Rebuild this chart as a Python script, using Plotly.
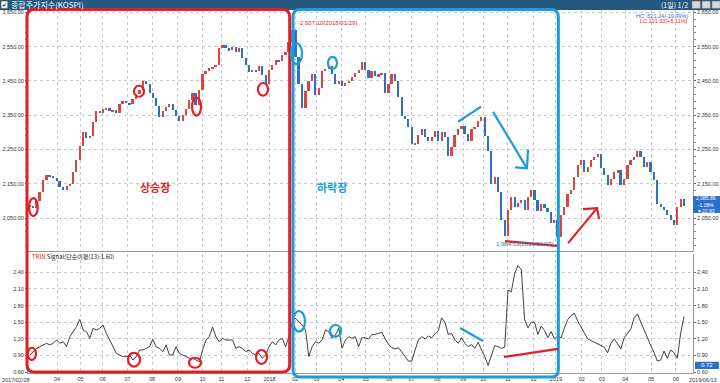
import numpy as np
import pandas as pd
import plotly.graph_objects as go

# ---------------- data ----------------
start_date = "2017-02-28"
end_date = "2019-06-13"
krx_holidays = [
    "2017-03-01", "2017-05-01", "2017-05-03", "2017-05-05", "2017-05-09", "2017-06-06",
    "2017-08-15", "2017-10-02", "2017-10-03", "2017-10-04", "2017-10-05", "2017-10-06",
    "2017-10-09", "2017-12-25", "2017-12-29",
    "2018-01-01", "2018-02-15", "2018-02-16", "2018-03-01", "2018-05-01", "2018-05-07",
    "2018-05-22", "2018-06-06", "2018-06-13", "2018-08-15", "2018-09-24", "2018-09-25",
    "2018-09-26", "2018-10-03", "2018-10-09", "2018-12-25", "2018-12-31",
    "2019-01-01", "2019-02-04", "2019-02-05", "2019-02-06", "2019-03-01", "2019-05-01",
    "2019-05-06", "2019-06-06",
]

# KOSPI close, sampled roughly every 3 trading days
kospi_close = [
    2085, 2080, 2100, 2125, 2160, 2175, 2170, 2168, 2158, 2140,
    2132, 2145, 2150, 2185, 2220, 2260, 2300, 2285, 2290, 2330,
    2362, 2358, 2367, 2370, 2362, 2364, 2358, 2382, 2391, 2387,
    2382, 2396, 2411, 2425, 2449, 2440, 2415, 2401, 2377, 2345,
    2362, 2374, 2382, 2365, 2348, 2334, 2350, 2368, 2395, 2415,
    2380, 2425, 2470, 2480, 2487, 2490, 2497, 2545, 2555, 2545,
    2540, 2550, 2535, 2545, 2516, 2497, 2475, 2483, 2478, 2495,
    2468, 2440, 2483, 2497, 2510, 2507, 2525, 2535, 2565, 2598,
    2520, 2440, 2370, 2420, 2450, 2470, 2410, 2430, 2480, 2485,
    2495, 2470, 2440, 2450, 2435, 2445, 2450, 2463, 2473, 2483,
    2505, 2483, 2458, 2479, 2464, 2469, 2474, 2416, 2440, 2469,
    2450, 2402, 2349, 2339, 2315, 2266, 2266, 2291, 2310, 2286,
    2276, 2286, 2305, 2276, 2300, 2286, 2230, 2257, 2291, 2310,
    2320, 2295, 2276, 2310, 2315, 2334, 2345, 2290, 2245, 2150,
    2170, 2125, 2044, 1998, 2073, 2112, 2083, 2093, 2102, 2073,
    2112, 2131, 2102, 2070, 2092, 2078, 2068, 2036, 2044, 1994,
    2060, 2083, 2120, 2131, 2170, 2204, 2218, 2184, 2199, 2218,
    2228, 2237, 2195, 2175, 2146, 2165, 2184, 2189, 2146, 2165,
    2204, 2218, 2228, 2245, 2228, 2199, 2213, 2184, 2160, 2092,
    2083, 2073, 2059, 2044, 2030, 2083, 2107, 2086,
]

# TRIN signal (13-day simple MA), same sampling
trin_signal = [
    0.91, 0.97, 1.03, 1.06, 1.09, 1.12, 1.09, 1.12, 1.18, 1.12,
    1.15, 1.06, 1.24, 1.33, 1.42, 1.55, 1.36, 1.33, 1.21, 1.39,
    1.36, 1.39, 1.45, 1.30, 1.18, 1.06, 0.94, 0.91, 0.88, 0.88,
    0.91, 0.82, 0.88, 1.00, 1.00, 1.03, 1.06, 1.19, 1.06, 1.03,
    0.97, 1.09, 0.91, 0.91, 1.06, 0.94, 0.91, 0.88, 0.85, 0.85,
    0.82, 0.79, 1.00, 1.18, 1.24, 1.41, 1.24, 1.15, 1.21, 1.18,
    1.18, 1.18, 1.03, 1.06, 1.03, 0.97, 1.00, 0.94, 0.91, 0.94,
    0.85, 0.91, 1.06, 1.15, 1.09, 1.18, 1.21, 1.06, 1.24, 1.51,
    1.57, 1.51, 1.45, 1.36, 0.88, 1.06, 1.15, 1.12, 1.18, 1.36,
    1.33, 1.21, 1.27, 1.39, 1.03, 1.18, 1.24, 1.21, 1.24, 1.06,
    1.22, 1.22, 1.20, 1.28, 1.28, 1.30, 1.32, 1.20, 1.10, 1.04,
    1.02, 1.04, 0.97, 0.88, 0.80, 0.80, 1.00, 1.18, 1.24, 1.20,
    1.25, 1.22, 1.29, 1.35, 1.58, 1.50, 1.28, 1.30, 1.18, 1.12,
    1.22, 1.12, 1.06, 1.10, 1.03, 1.14, 1.00, 0.88, 0.72, 0.92,
    1.08, 1.06, 1.03, 1.05, 2.08, 2.05, 2.38, 2.52, 2.45, 1.55,
    1.40, 1.50, 1.50, 1.28, 1.43, 1.35, 1.22, 1.33, 1.20, 1.25,
    1.22, 1.40, 1.55, 1.62, 1.66, 1.52, 1.42, 1.30, 1.20, 1.17,
    1.14, 1.10, 1.08, 1.05, 0.95, 1.12, 1.20, 1.10, 1.02, 1.22,
    1.30, 1.38, 1.58, 1.65, 1.50, 1.35, 1.20, 1.08, 0.95, 0.80,
    0.82, 0.98, 0.85, 1.00, 0.95, 0.85, 1.30, 1.60,
]

price_ticks = [2050, 2150, 2250, 2350, 2450, 2550, 2650]
trin_ticks = [0.60, 0.90, 1.20, 1.50, 1.80, 2.10, 2.40]
month_labels = ["04", "05", "06", "07", "08", "09", "10", "11", "12", "2018",
                "02", "03", "04", "05", "06", "07", "08", "09", "10", "11", "12", "2019",
                "02", "03", "04", "05", "06"]

# ---------------- derived ----------------
days = pd.bdate_range(start_date, end_date)
days = days[~days.isin(pd.to_datetime(krx_holidays))]
n_days = len(days)
day_idx = pd.Series(np.arange(n_days), index=days)
firsts = day_idx.groupby([days.year, days.month]).first().values
month_pos = list(firsts[2:])  # from April 2017

close = np.array(kospi_close, dtype=float)
opens = np.r_[close[0], close[:-1]]
body_lo = np.minimum(opens, close)
body_h = np.maximum(np.abs(close - opens), 2.0)
xs = np.linspace(0, n_days - 1, len(close))
up = close >= opens
candle_colors = np.where(up, "#d9463e", "#2f6fc6")

RED = "#e41e26"
BLUE = "#1b9ddb"
GRID = "#c9c9c9"
FONT = "Liberation Sans"
KFONT = "Noto Sans CJK KR"

fig = go.Figure()
fig.add_trace(go.Bar(
    x=xs, y=body_h, base=body_lo, width=1.7, xaxis="x", yaxis="y",
    marker=dict(color=candle_colors, line=dict(width=0)),
    showlegend=False, hoverinfo="skip",
))
fig.add_trace(go.Scatter(
    x=xs, y=trin_signal, mode="lines", xaxis="x2", yaxis="y3",
    line=dict(color="#2b2b2b", width=0.9), showlegend=False, hoverinfo="skip",
))
# invisible companions so the left-side axes are drawn
fig.add_trace(go.Scatter(x=xs, y=close, xaxis="x", yaxis="y2", mode="lines",
                         line=dict(width=0), opacity=0, showlegend=False, hoverinfo="skip"))
fig.add_trace(go.Scatter(x=xs, y=trin_signal, xaxis="x2", yaxis="y4", mode="lines",
                         line=dict(width=0), opacity=0, showlegend=False, hoverinfo="skip"))

xr = [-1.7, n_days - 1 + 7.7]
price_range = [1954, 2657]
trin_range = [0.585, 2.73]
top_dom = [0.3361, 1.0]
bot_dom = [0.0, 0.3278]
tickfont = dict(family=FONT, size=5.5, color="#333333")

common_x = dict(range=xr, tickmode="array", tickvals=month_pos, showgrid=True,
                gridcolor=GRID, griddash="dot", gridwidth=1, zeroline=False,
                showline=True, linecolor="#9a9a9a", linewidth=1, automargin=False)
yl = dict(tickmode="array", tickfont=tickfont, ticks="outside", ticklen=2, tickcolor="#666",
          zeroline=False, showline=True, linecolor="#9a9a9a", automargin=False)
price_minor = dict(dtick=20, tick0=2050, ticks="outside", ticklen=2, tickcolor="#888")
fig.update_layout(
    width=720, height=383,
    margin=dict(l=28, r=27, t=10, b=10, autoexpand=False),
    paper_bgcolor="white", plot_bgcolor="white",
    showlegend=False, bargap=0,
    xaxis=dict(**common_x, anchor="y", domain=[0, 1], showticklabels=False,
               ticks="", matches="x2"),
    xaxis2=dict(**common_x, anchor="y3", domain=[0, 1], ticktext=month_labels,
                ticks="", tickfont=tickfont),
    yaxis=dict(**yl, domain=top_dom, anchor="x", range=price_range, side="right",
               tickvals=price_ticks, tickformat=",.2f",
               showgrid=True, gridcolor=GRID, griddash="dot", minor=price_minor),
    yaxis2=dict(**yl, overlaying="y", anchor="x", range=price_range, side="left",
                tickvals=price_ticks, tickformat=",.2f", showgrid=False, minor=price_minor),
    yaxis3=dict(**yl, domain=bot_dom, anchor="x2", range=trin_range, side="right",
                tickvals=trin_ticks, tickformat=".2f",
                showgrid=True, gridcolor=GRID, griddash="dot"),
    yaxis4=dict(**yl, overlaying="y3", anchor="x2", range=trin_range, side="left",
                tickvals=trin_ticks, tickformat=".2f", showgrid=False),
)


def rrect(x0, y0, x1, y1, rx, ry):
    return (f"M {x0+rx},{y1} L {x1-rx},{y1} Q {x1},{y1} {x1},{y1-ry} "
            f"L {x1},{y0+ry} Q {x1},{y0} {x1-rx},{y0} L {x0+rx},{y0} "
            f"Q {x0},{y0} {x0},{y0+ry} L {x0},{y1-ry} Q {x0},{y1} {x0+rx},{y1} Z")


shapes = []
# title bar
shapes.append(dict(type="rect", xref="paper", yref="paper", x0=-0.045, x1=1.045,
                   y0=1.0, y1=1.03, fillcolor="#24587f", line=dict(width=0), layer="above"))
shapes.append(dict(type="rect", xref="paper", yref="paper", x0=-0.0405, x1=-0.0305,
                   y0=1.0045, y1=1.0245, fillcolor="white", line=dict(color="#555", width=0.5), layer="above"))
for bx in [0.9985, 1.0135, 1.0285]:
    shapes.append(dict(type="rect", xref="paper", yref="paper", x0=bx, x1=bx + 0.0125,
                       y0=1.0045, y1=1.0245, fillcolor="#d8d8d8",
                       line=dict(color="#777", width=0.5), layer="above"))
# regime boxes
shapes.append(dict(type="path", xref="paper", yref="paper", layer="above",
                   path=rrect(-0.0015, 0.0028, 0.3935, 1.0014, 0.011, 0.02),
                   line=dict(color=RED, width=3)))
shapes.append(dict(type="path", xref="paper", yref="paper", layer="above",
                   path=rrect(0.3985, -0.011, 0.7975, 1.0014, 0.011, 0.02),
                   line=dict(color=BLUE, width=3)))

# ellipses on price panel
for (x0, x1, y0, y1, c) in [
    (-0.85, 6.6, 2056, 2108, RED), (88.6, 97.1, 2404, 2436, RED),
    (138.0, 145.7, 2349, 2401, RED), (194.2, 202.7, 2407, 2444, RED),
    (222.3, 231.7, 2499, 2560, BLUE), (253.8, 261.5, 2485, 2520, BLUE),
]:
    shapes.append(dict(type="circle", xref="x", yref="y", x0=x0, x1=x1, y0=y0, y1=y1,
                       line=dict(color=c, width=2.2), layer="above"))
# ellipses on TRIN panel
for (x0, x1, y0, y1, c) in [
    (-2.0, 5.1, 0.82, 1.04, RED), (83.5, 93.7, 0.70, 0.95, RED),
    (135.4, 145.7, 0.68, 0.86, RED), (192.5, 201.9, 0.75, 1.00, RED),
    (224.0, 234.2, 1.33, 1.70, BLUE), (255.5, 264.9, 1.24, 1.45, BLUE),
]:
    shapes.append(dict(type="circle", xref="x2", yref="y3", x0=x0, x1=x1, y0=y0, y1=y1,
                       line=dict(color=c, width=2.2), layer="above"))

# trend lines / arrows
shapes += [
    dict(type="line", xref="x", yref="y", x0=364.6, y0=2331, x1=384.2, y1=2375,
         line=dict(color=BLUE, width=2.2)),
    dict(type="line", xref="x", yref="y", x0=394.4, y0=2360, x1=423.3, y1=2195,
         line=dict(color=BLUE, width=2.2)),
    dict(type="path", xref="x", yref="y", path="M 424.2,2250 L 423.3,2195 L 413.1,2198",
         line=dict(color=BLUE, width=2.2)),
    dict(type="line", xref="x", yref="y", x0=404.6, y0=1983, x1=448.9, y1=1969,
         line=dict(color=RED, width=2.2)),
    dict(type="line", xref="x", yref="y", x0=458.3, y0=1977, x1=483.0, y1=2079,
         line=dict(color=RED, width=2.2)),
    dict(type="path", xref="x", yref="y", path="M 471.0,2076 L 483.0,2079 L 484.7,2047",
         line=dict(color=RED, width=2.2)),
    dict(type="line", xref="x2", yref="y3", x0=366.3, y0=1.397, x1=385.9, y1=1.163,
         line=dict(color=BLUE, width=2.2)),
    dict(type="line", xref="x2", yref="y3", x0=403.7, y0=0.875, x1=449.7, y1=1.019,
         line=dict(color=RED, width=2.2)),
]
# value boxes on the right
shapes.append(dict(type="rect", xref="paper", yref="paper", x0=1.0, x1=1.0406,
                   y0=0.4408, y1=0.4876, fillcolor="#2a6fca", line=dict(width=0), layer="above"))
shapes.append(dict(type="rect", xref="paper", yref="paper", x0=1.003, x1=1.039,
                   y0=0.011, y1=0.031, fillcolor="#2a6fca", line=dict(width=0), layer="above"))
fig.update_layout(shapes=shapes)

small = dict(family=FONT, size=5.5, color="#333333")
ann = [
    dict(xref="paper", yref="paper", x=-0.028, y=1.015, xanchor="left", yanchor="middle",
         text="종합주가지수(KOSPI)", showarrow=False,
         font=dict(family=KFONT, size=8, color="white")),
    dict(xref="paper", yref="paper", x=-0.0355, y=1.0145, xanchor="center", yanchor="middle",
         text="✔", showarrow=False, font=dict(family="DejaVu Sans", size=6, color="#222")),
    dict(xref="paper", yref="paper", x=0.996, y=1.015, xanchor="right", yanchor="middle",
         text="(1일) 1/2", showarrow=False, font=dict(family=KFONT, size=7, color="white")),
    dict(xref="paper", yref="paper", x=0.995, y=0.997, xanchor="right", yanchor="top",
         text="HC:-521.24(-19.99%)", showarrow=False, font=dict(family=FONT, size=5.5, color="#2a6fca")),
    dict(xref="paper", yref="paper", x=0.995, y=0.983, xanchor="right", yanchor="top",
         text="LC:101.33(+5.11%)", showarrow=False, font=dict(family=FONT, size=5.5, color=RED)),
    dict(xref="x", yref="y", x=226.5, y=2619, xanchor="left", yanchor="middle",
         text="-2,607.10(2018/01/29)", showarrow=False, font=dict(family=FONT, size=6, color=RED)),
    dict(xref="x", yref="y", x=421.0, y=1975, xanchor="center", yanchor="middle",
         text="1,984.53(2019/01/03)", showarrow=False, font=dict(family=FONT, size=6, color="#2a6fca")),
    dict(xref="x", yref="y", x=106.5, y=2140, xanchor="center", yanchor="middle",
         text="<b>상승장</b>", showarrow=False, font=dict(family=KFONT, size=11, color=RED)),
    dict(xref="x", yref="y", x=257.2, y=2140, xanchor="center", yanchor="middle",
         text="<b>하락장</b>", showarrow=False, font=dict(family=KFONT, size=11, color=BLUE)),
    dict(xref="paper", yref="paper", x=0.003, y=0.322, xanchor="left", yanchor="middle",
         text="<span style='color:#e41e26'>TRIN</span> Signal(단순이평(13):1.60)", showarrow=False,
         font=dict(family=KFONT, size=6, color="#222")),
    dict(xref="paper", yref="paper", x=1.0203, y=0.4642, xanchor="center", yanchor="middle",
         text="2,085.86<br>-1.08%<br>▼22.83", showarrow=False,
         font=dict(family=FONT, size=5, color="white")),
    dict(xref="paper", yref="paper", x=1.021, y=0.021, xanchor="center", yanchor="middle",
         text="0.72", showarrow=False, font=dict(family=FONT, size=6, color="white")),
    dict(xref="paper", yref="paper", x=-0.042, y=-0.006, xanchor="left", yanchor="top",
         text="2017/02/28", showarrow=False, font=small),
    dict(xref="paper", yref="paper", x=1.0395, y=-0.006, xanchor="right", yanchor="top",
         text="2019/06/13", showarrow=False, font=small),
]
fig.update_layout(annotations=ann)

fig.write_html("out.html", config={"displayModeBar": False},
               post_script="document.body.style.margin='0';document.body.style.overflow='hidden';")
